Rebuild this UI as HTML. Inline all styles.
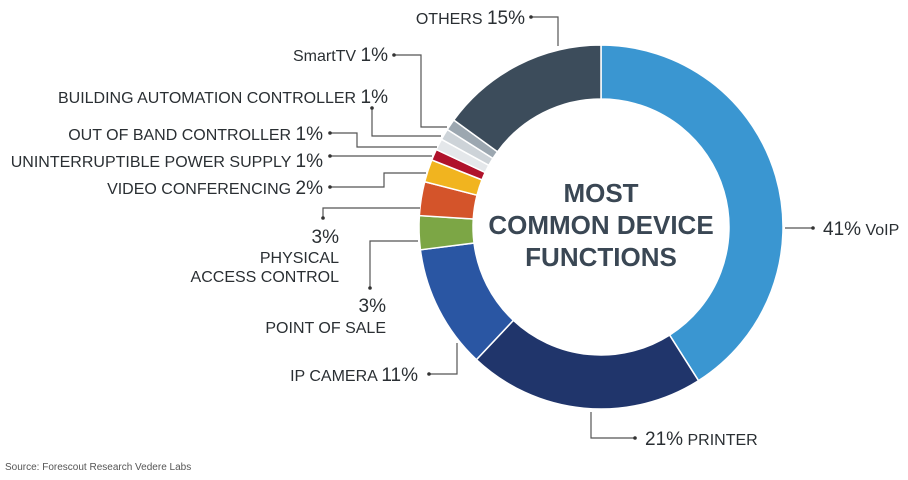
<!DOCTYPE html>
<html><head><meta charset="utf-8"><style>
body{margin:0;background:#fff;width:908px;height:480px;overflow:hidden}
svg{display:block}
text{font-family:"Liberation Sans",sans-serif;fill:#2a2f33}
.l{font-size:16px}
.p{font-size:19px}
.c{font-size:26px;font-weight:bold;fill:#3a4754;text-anchor:middle}
line,polyline{stroke:#555;stroke-width:1.2;fill:none}
circle.d{fill:#333}
</style></head><body>
<svg id="s" width="908" height="480" viewBox="0 0 908 480">
<g id="donut"></g>
<text class="c" x="601" y="202">MOST</text>
<text class="c" x="601" y="234">COMMON DEVICE</text>
<text class="c" x="601" y="266">FUNCTIONS</text>

<text class="l" x="525" y="24" text-anchor="end">OTHERS <tspan class="p">15%</tspan></text>
<polyline points="531,17 558,17 558,46"/><circle class="d" cx="531" cy="17" r="1.8"/>

<text class="l" x="388" y="61" text-anchor="end">SmartTV <tspan class="p">1%</tspan></text>
<polyline points="394,55 421,55 421,127 447,127"/><circle class="d" cx="394" cy="55" r="1.8"/>

<text class="l" x="388" y="103" text-anchor="end">BUILDING AUTOMATION CONTROLLER <tspan class="p">1%</tspan></text>
<polyline points="372,108 372,136 441,136"/><circle class="d" cx="372" cy="108" r="1.8"/>

<text class="l" x="323" y="140" text-anchor="end">OUT OF BAND CONTROLLER <tspan class="p">1%</tspan></text>
<polyline points="330,133 357,133 357,147 437,147"/><circle class="d" cx="330" cy="133" r="1.8"/>

<text class="l" x="323" y="167" text-anchor="end">UNINTERRUPTIBLE POWER SUPPLY <tspan class="p">1%</tspan></text>
<polyline points="330,156 432,156"/><circle class="d" cx="330" cy="156" r="1.8"/>

<text class="l" x="323" y="194" text-anchor="end">VIDEO CONFERENCING <tspan class="p">2%</tspan></text>
<polyline points="330,187 384,187 384,173 426,173"/><circle class="d" cx="330" cy="187" r="1.8"/>

<polyline points="323,218 323,208 420,208"/><circle class="d" cx="323" cy="218" r="1.8"/>
<text class="p" x="339" y="243" text-anchor="end">3%</text>
<text class="l" x="339" y="263" text-anchor="end">PHYSICAL</text>
<text class="l" x="339" y="282" text-anchor="end">ACCESS CONTROL</text>

<polyline points="370,288 370,241 418,241"/><circle class="d" cx="370" cy="288" r="1.8"/>
<text class="p" x="386" y="312" text-anchor="end">3%</text>
<text class="l" x="386" y="333" text-anchor="end">POINT OF SALE</text>

<text class="l" x="418" y="381" text-anchor="end">IP CAMERA <tspan class="p">11%</tspan></text>
<polyline points="429,374 457,374 457,343"/><circle class="d" cx="429" cy="374" r="1.8"/>

<polyline points="591,412 591,438 635,438"/><circle class="d" cx="635" cy="438" r="1.8"/>
<text class="l" x="645" y="445"><tspan class="p">21%</tspan> PRINTER</text>

<polyline points="785,228 813,228"/><circle class="d" cx="813" cy="228" r="1.8"/>
<text class="l" x="823" y="235"><tspan class="p">41%</tspan> VoIP</text>

<text x="5" y="470" style="font-size:10px;fill:#555">Source: Forescout Research Vedere Labs</text>
</svg>
<script>
var cx=601,cy=227,R=182,r=128;
var d=[[41,"#3a96d1"],[21,"#20356b"],[11,"#2a56a3"],[3,"#7ca645"],[3,"#d4542a"],[2,"#f1b41f"],[1,"#b0122b"],[1,"#e4e7ea"],[1,"#cdd3d8"],[1,"#9ca7b0"],[15,"#3c4c5b"]];
var a=0,g=document.getElementById("donut"),h="";
function pt(rr,ang){var t=ang/100*2*Math.PI;return [(cx+rr*Math.sin(t)).toFixed(2),(cy-rr*Math.cos(t)).toFixed(2)];}
d.forEach(function(s){var b=a+s[0];var lg=s[0]>50?1:0;
var p1=pt(R,a),p2=pt(R,b),p3=pt(r,b),p4=pt(r,a);
h+='<path d="M'+p1+' A'+R+','+R+' 0 '+lg+' 1 '+p2+' L'+p3+' A'+r+','+r+' 0 '+lg+' 0 '+p4+' Z" fill="'+s[1]+'" stroke="#fff" stroke-width="1.5"/>';a=b;});
g.innerHTML=h;
</script>
</body></html>
